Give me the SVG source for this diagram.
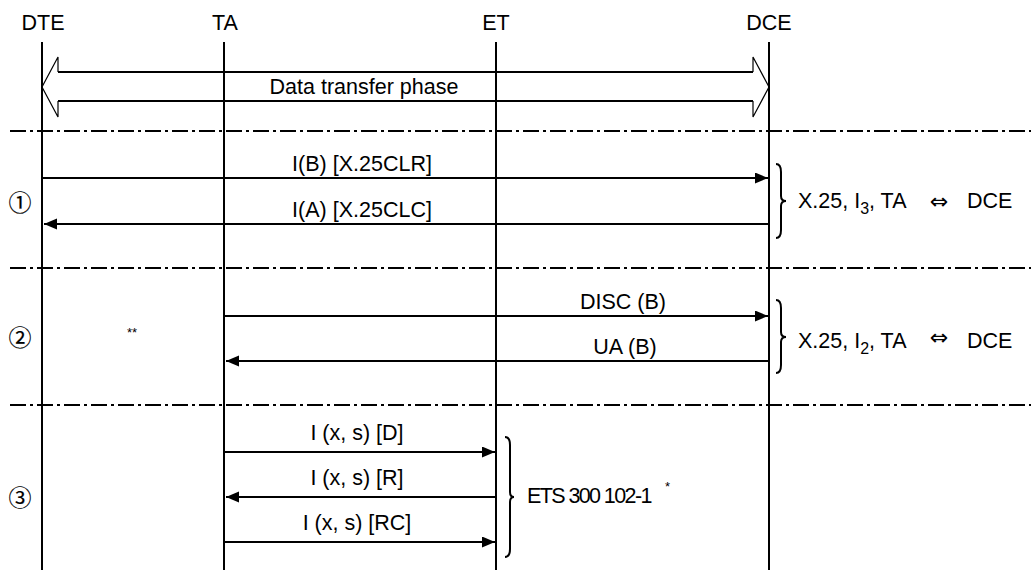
<svg xmlns="http://www.w3.org/2000/svg" width="1031" height="570" viewBox="0 0 1031 570">
<style>
.t{font-family:"Liberation Sans",Arial,sans-serif;font-size:21.5px;fill:#000}
.m{text-anchor:middle}
.life{stroke:#000;stroke-width:2;fill:none}
.sep{stroke:#000;stroke-width:2;stroke-dasharray:16 4 3 4;fill:none}
.msg{stroke:#000;stroke-width:2;fill:none}
.brace{stroke:#000;stroke-width:2;fill:none}
.circ{font-family:"Noto Sans CJK JP","DejaVu Sans",sans-serif;font-size:23px;text-anchor:middle;stroke:#000;stroke-width:0.2}
.sym{font-family:"DejaVu Sans",sans-serif;font-size:22px;text-anchor:middle}
.ast{font-family:"Liberation Sans",Arial,sans-serif;font-size:13px}
</style>
<defs>
<marker id="ah" markerUnits="userSpaceOnUse" markerWidth="14" markerHeight="12" refX="13" refY="5.5" orient="auto">
<path d="M0,0 L13,5.5 L0,11 z" fill="#000"/>
</marker>
</defs>
<rect width="1031" height="570" fill="#fff"/>
<g id="lifelines">
<g id="DTE"><text class="t m" x="43" y="30">DTE</text><line class="life" x1="42" y1="42" x2="42" y2="570"/></g>
<g id="TA"><text class="t m" x="225" y="30">TA</text><line class="life" x1="224" y1="42" x2="224" y2="570"/></g>
<g id="ET"><text class="t m" x="496" y="30">ET</text><line class="life" x1="496" y1="42" x2="496" y2="570"/></g>
<g id="DCE"><text class="t m" x="769" y="30">DCE</text><line class="life" x1="769" y1="42" x2="769" y2="570"/></g>
</g>
<g id="separators">
<line class="sep" x1="10" y1="131" x2="1031" y2="131"/>
<line class="sep" x1="10" y1="268" x2="1031" y2="268"/>
<line class="sep" x1="10" y1="405" x2="1031" y2="405"/>
</g>
<g id="phase">
<polyline points="58,72 753,72" stroke="#000" stroke-width="2" fill="none"/>
<polyline points="58,101 753,101" stroke="#000" stroke-width="2" fill="none"/>
<polyline points="58,72 58,57 42,87 58,117 58,101" stroke="#000" stroke-width="1.2" fill="none"/>
<polyline points="753,72 753,57 769,87 753,117 753,101" stroke="#000" stroke-width="1.2" fill="none"/>
<text class="t m" x="364" y="94">Data transfer phase</text>
</g>
<g id="connectors">
<line class="msg" x1="42" y1="178" x2="768" y2="178" marker-end="url(#ah)"/>
<line class="msg" x1="769" y1="224" x2="44" y2="224" marker-end="url(#ah)"/>
<line class="msg" x1="224" y1="316" x2="768" y2="316" marker-end="url(#ah)"/>
<line class="msg" x1="769" y1="361" x2="226" y2="361" marker-end="url(#ah)"/>
<line class="msg" x1="224" y1="452" x2="495" y2="452" marker-end="url(#ah)"/>
<line class="msg" x1="496" y1="497" x2="226" y2="497" marker-end="url(#ah)"/>
<line class="msg" x1="224" y1="542" x2="495" y2="542" marker-end="url(#ah)"/>
</g>
<g id="labels">
<text class="t m" x="362" y="171">I(B) [X.25CLR]</text>
<text class="t m" x="362" y="217">I(A) [X.25CLC]</text>
<text class="t m" x="623" y="309">DISC (B)</text>
<text class="t m" x="625" y="354">UA (B)</text>
<text class="t m" x="357" y="440">I (x, s) [D]</text>
<text class="t m" x="357" y="485">I (x, s) [R]</text>
<text class="t m" x="357" y="530">I (x, s) [RC]</text>
</g>
<g id="phase1">
<text class="circ" x="20" y="211">①</text>
<path class="brace" d="M776,164 Q781,164 781,172 L781,196 Q781,201 786,201 Q781,201 781,206 L781,230 Q781,238 776,238"/>
<text class="t" x="798" y="208">X.25, I<tspan font-size="16" dy="6">3</tspan><tspan dy="-6">, TA</tspan></text>
<text class="sym" x="939" y="209">⇔</text>
<text class="t" x="967" y="208">DCE</text>
</g>
<g id="phase2">
<text class="circ" x="20" y="346">②</text>
<text class="ast" x="127" y="337">**</text>
<path class="brace" d="M776,300 Q781,300 781,308 L781,332 Q781,337 786,337 Q781,337 781,342 L781,365 Q781,373 776,373"/>
<text class="t" x="798" y="348">X.25, I<tspan font-size="16" dy="6">2</tspan><tspan dy="-6">, TA</tspan></text>
<text class="sym" x="939" y="345">⇔</text>
<text class="t" x="967" y="348">DCE</text>
</g>
<g id="phase3">
<text class="circ" x="20" y="506">③</text>
<path class="brace" d="M505,437 Q510,437 510,445 L510,492 Q510,497 514,497 Q510,497 510,502 L510,549 Q510,557 505,557"/>
<text class="t" x="527" y="503" letter-spacing="-1.6">ETS 300 102-1</text>
<text class="ast" x="665" y="491">*</text>
</g>
</svg>
